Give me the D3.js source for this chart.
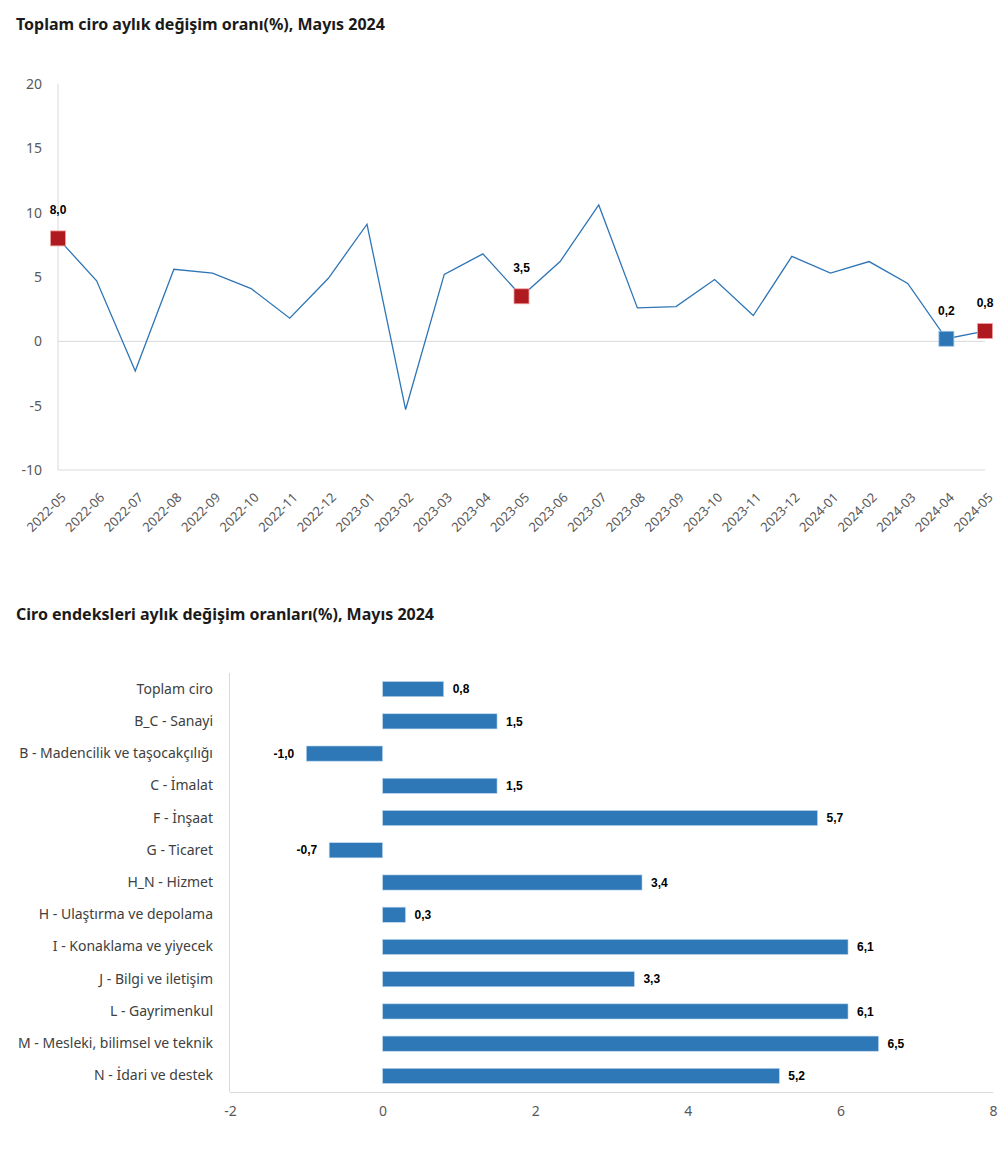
<!DOCTYPE html>
<html><head><meta charset="utf-8">
<script src="https://cdn.jsdelivr.net/npm/d3@7"></script>
<style>
body{margin:0;background:#fff;}
svg{display:block;}
</style></head>
<body><svg id="c" width="1007" height="1172"></svg>
<script>
const months = ["2022-05","2022-06","2022-07","2022-08","2022-09","2022-10","2022-11","2022-12","2023-01","2023-02","2023-03","2023-04","2023-05","2023-06","2023-07","2023-08","2023-09","2023-10","2023-11","2023-12","2024-01","2024-02","2024-03","2024-04","2024-05"];
const monthly = [8.0,4.7,-2.3,5.6,5.3,4.1,1.8,4.9,9.1,-5.3,5.2,6.8,3.5,6.2,10.6,2.6,2.7,4.8,2.0,6.6,5.3,6.2,4.5,0.2,0.8];
const highlightRed = ["2022-05","2023-05","2024-05"];
const highlightBlue = ["2024-04"];
const lineTicks = [-10,-5,0,5,10,15,20];

const sectors = ["Toplam ciro","B_C - Sanayi","B - Madencilik ve taşocakçılığı","C - İmalat","F - İnşaat","G - Ticaret","H_N - Hizmet","H - Ulaştırma ve depolama","I - Konaklama ve yiyecek","J - Bilgi ve iletişim","L - Gayrimenkul","M - Mesleki, bilimsel ve teknik","N - İdari ve destek"];
const sectorValues = [0.8,1.5,-1.0,1.5,5.7,-0.7,3.4,0.3,6.1,3.3,6.1,6.5,5.2];
const barTicks = [-2,0,2,4,6,8];

const titles = ["Toplam ciro aylık değişim oranı(%), Mayıs 2024","Ciro endeksleri aylık değişim oranları(%), Mayıs 2024"];

const svg = d3.select("#c");
const fmt = v => d3.format(".1f")(v).replace(".", ",").replace("\u2212","-");
const intFmt = v => String(v);
const uiFont = "'Noto Sans', 'Open Sans', sans-serif";
const numFont = "'Liberation Sans', Arial, sans-serif";
const blue = "#2E75B6", red = "#AE1A1F", grid = "#D9D9D9", axisTxt = "#595959";

// Titles
svg.append("text").attr("x",16).attr("y",30).text(titles[0])
  .attr("font-family",uiFont).attr("font-weight","bold").attr("font-size",16).attr("fill","#1a1a1a");
svg.append("text").attr("x",16).attr("y",620).text(titles[1])
  .attr("font-family",uiFont).attr("font-weight","bold").attr("font-size",16).attr("fill","#1a1a1a");

// ---- Line chart
const x = d3.scalePoint().domain(months).range([58,985]);
const y = d3.scaleLinear().domain([-10,20]).range([470,84]);
const g1 = svg.append("g");
g1.append("line").attr("x1",58).attr("x2",58).attr("y1",y(20)).attr("y2",y(-10)).attr("stroke",grid);
g1.append("line").attr("x1",58).attr("x2",985).attr("y1",y(-10)).attr("y2",y(-10)).attr("stroke",grid);
g1.append("line").attr("x1",58).attr("x2",985).attr("y1",y(0)).attr("y2",y(0)).attr("stroke",grid);
const yAx = g1.append("g").attr("transform","translate(58,0)")
  .call(d3.axisLeft(y).tickValues(lineTicks).tickFormat(intFmt).tickSize(0).tickPadding(16));
yAx.select(".domain").remove();
yAx.selectAll("text").attr("font-family",uiFont).attr("font-size",14).attr("fill",axisTxt);

const xAx = g1.append("g").attr("transform",`translate(0,${y(-10)})`)
  .call(d3.axisBottom(x).tickSize(0));
xAx.select(".domain").remove();
xAx.selectAll("text").attr("font-family",uiFont).attr("font-size",13).attr("fill",axisTxt)
  .attr("text-anchor","end").attr("x",0).attr("y",0).attr("dy","0.35em")
  .attr("transform","translate(5,25) rotate(-45)");

const line = d3.line().x((d,i)=>x(months[i])).y(d=>y(d));
g1.append("path").datum(monthly).attr("d",line).attr("fill","none").attr("stroke",blue).attr("stroke-width",1.3);

const marks = months.map((m,i)=>({m,v:monthly[i]})).filter(d=>highlightRed.includes(d.m)||highlightBlue.includes(d.m));
g1.selectAll("rect.mk").data(marks).enter().append("rect")
  .attr("x",d=>x(d.m)-7.5).attr("y",d=>y(d.v)-7.5).attr("width",15).attr("height",15)
  .attr("fill",d=>highlightRed.includes(d.m)?red:blue)
  .attr("stroke",d=>highlightRed.includes(d.m)?"#f2a0a0":"#9dc3e6").attr("stroke-width",0.8);
g1.selectAll("text.lb").data(marks).enter().append("text")
  .attr("x",d=>x(d.m)).attr("y",d=>y(d.v)-24).attr("text-anchor","middle")
  .attr("font-family",numFont).attr("font-weight","bold").attr("font-size",12).attr("fill","#000")
  .text(d=>fmt(d.v));

// ---- Bar chart
const xb = d3.scaleLinear().domain([-2,8]).range([230,993]);
const yb = d3.scaleBand().domain(sectors).range([673,1092]).paddingInner(0.53).paddingOuter(0.265);
const g2 = svg.append("g");
g2.append("line").attr("x1",229.5).attr("x2",229.5).attr("y1",673).attr("y2",1092).attr("stroke",grid);
g2.append("line").attr("x1",230).attr("x2",993).attr("y1",1092.5).attr("y2",1092.5).attr("stroke",grid);
const xbAx = g2.append("g").attr("transform","translate(0,1092)")
  .call(d3.axisBottom(xb).tickValues(barTicks).tickFormat(intFmt).tickSize(0).tickPadding(14));
xbAx.select(".domain").remove();
xbAx.selectAll("text").attr("font-family",uiFont).attr("font-size",14).attr("fill",axisTxt);
const ybAx = g2.append("g").attr("transform","translate(229,0)")
  .call(d3.axisLeft(yb).tickSize(0).tickPadding(16));
ybAx.select(".domain").remove();
ybAx.selectAll("text").attr("font-family",uiFont).attr("font-size",14).attr("fill","#404040");

const bd = sectors.map((s,i)=>({s,v:sectorValues[i]}));
g2.selectAll("rect.bar").data(bd).enter().append("rect")
  .attr("x",d=>xb(Math.min(0,d.v))).attr("y",d=>yb(d.s))
  .attr("width",d=>Math.abs(xb(d.v)-xb(0))).attr("height",yb.bandwidth())
  .attr("fill","#2E78B7").attr("stroke","#BDD7EE").attr("stroke-width",0.6);
g2.selectAll("text.bv").data(bd).enter().append("text")
  .attr("x",d=>d.v>=0?xb(d.v)+9:xb(d.v)-12)
  .attr("y",d=>yb(d.s)+yb.bandwidth()/2).attr("dy","0.35em")
  .attr("text-anchor",d=>d.v>=0?"start":"end")
  .attr("font-family",numFont).attr("font-weight","bold").attr("font-size",12).attr("fill","#000")
  .text(d=>fmt(d.v));
</script></body></html>
